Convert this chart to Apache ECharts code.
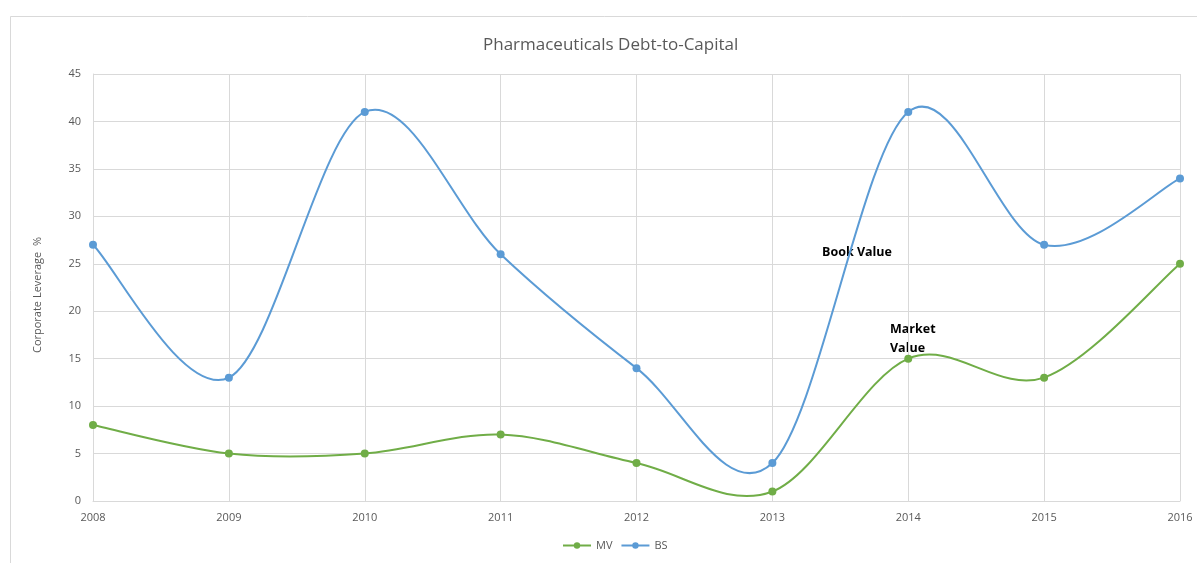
<!DOCTYPE html>
<html>
<head>
<meta charset="utf-8">
<script src="https://cdn.jsdelivr.net/npm/echarts@6/dist/echarts.min.js"></script>
<style>
html,body{margin:0;padding:0;background:#fff;}
#c{width:1197px;height:563px;}
</style>
</head>
<body>
<div id="c"></div>
<script>
var years = ['2008','2009','2010','2011','2012','2013','2014','2015','2016'];
var mv = [8, 5, 5, 7, 4, 1, 15, 13, 25];
var bs = [27, 13, 41, 26, 14, 4, 41, 27, 34];

var chart = echarts.init(document.getElementById('c'));
var font = "'Open Sans', 'Liberation Sans', sans-serif";

// Catmull-Rom style smoothing (like Excel's smoothed line) drawn through the axes' scales
function smoothCurve(values, color) {
  return {
    type: 'custom',
    data: [0],
    silent: true,
    z: 1,
    renderItem: function (params, api) {
      var pts = values.map(function (v, i) { return api.coord([i, v]); });
      var n = pts.length;
      var d = 'M' + pts[0][0] + ' ' + pts[0][1];
      for (var i = 0; i < n - 1; i++) {
        var p0 = pts[Math.max(i - 1, 0)], p1 = pts[i], p2 = pts[i + 1], p3 = pts[Math.min(i + 2, n - 1)];
        var c1x = p1[0] + (p2[0] - p0[0]) / 6, c1y = p1[1] + (p2[1] - p0[1]) / 6;
        var c2x = p2[0] - (p3[0] - p1[0]) / 6, c2y = p2[1] - (p3[1] - p1[1]) / 6;
        d += ' C' + c1x + ' ' + c1y + ' ' + c2x + ' ' + c2y + ' ' + p2[0] + ' ' + p2[1];
      }
      return {
        type: 'path',
        shape: {pathData: d},
        style: {fill: 'none', stroke: color, lineWidth: 2}
      };
    }
  };
}

chart.setOption({
  backgroundColor: '#fff',
  animation: false,
  title: {
    text: 'Pharmaceuticals Debt-to-Capital',
    left: 478, top: 32,
    textStyle: {color: '#595959', fontSize: 17, fontWeight: 'normal', fontFamily: font}
  },
  graphic: [
    {type: 'rect', shape: {x: 10.5, y: 16.5, width: 1200, height: 600},
     style: {fill: 'none', stroke: '#d9d9d9', lineWidth: 1}, silent: true, z: -1},
    {type: 'text', x: 38, y: 295, rotation: Math.PI / 2,
     style: {text: 'Corporate Leverage  %', fill: '#595959', font: '11px ' + font,
             align: 'center', verticalAlign: 'middle'}},
    {type: 'text', left: 822, top: 246,
     style: {text: 'Book Value', fill: '#000', font: 'bold 12.5px ' + font}},
    {type: 'text', left: 890, top: 320,
     style: {text: 'Market\nValue', fill: '#000', font: 'bold 12.5px ' + font, lineHeight: 19}}
  ],
  legend: {
    bottom: 7, left: 557,
    itemWidth: 28, itemHeight: 8, itemGap: 8,
    textStyle: {color: '#595959', fontSize: 11, fontFamily: font},
    lineStyle: {width: 2, opacity: 1},
    data: ['MV', 'BS']
  },
  grid: {left: 93, right: 17, top: 74, bottom: 62},
  xAxis: {
    type: 'category', data: years, boundaryGap: false,
    axisLine: {lineStyle: {color: '#d9d9d9'}},
    axisTick: {show: false},
    axisLabel: {color: '#595959', fontSize: 11, fontFamily: font, margin: 11},
    splitLine: {show: true, lineStyle: {color: '#d9d9d9'}}
  },
  yAxis: {
    type: 'value', min: 0, max: 45, interval: 5,
    axisLine: {show: true, lineStyle: {color: '#d9d9d9'}},
    axisTick: {show: false},
    axisLabel: {color: '#595959', fontSize: 11, fontFamily: font, margin: 12},
    splitLine: {lineStyle: {color: '#d9d9d9'}}
  },
  series: [
    {name: 'MV', type: 'line', data: mv, symbol: 'circle', symbolSize: 8, z: 3,
     itemStyle: {color: '#70ad47'}, lineStyle: {width: 2, color: '#70ad47', opacity: 0}},
    {name: 'BS', type: 'line', data: bs, symbol: 'circle', symbolSize: 8, z: 3,
     itemStyle: {color: '#5b9bd5'}, lineStyle: {width: 2, color: '#5b9bd5', opacity: 0}},
    smoothCurve(mv, '#70ad47'),
    smoothCurve(bs, '#5b9bd5')
  ]
});
</script>
</body>
</html>
